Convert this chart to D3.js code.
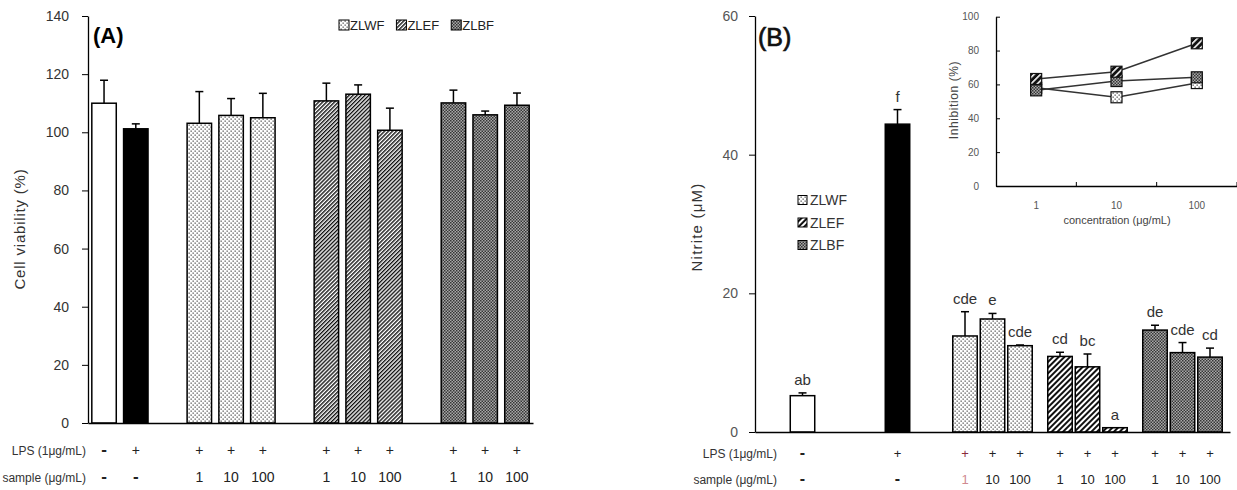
<!DOCTYPE html>
<html>
<head>
<meta charset="utf-8">
<script src="https://cdn.jsdelivr.net/npm/d3@7.9.0/dist/d3.min.js"></script>
<style>
  body { margin: 0; background: #fff; }
  svg { display: block; font-family: "Liberation Sans", Arial, sans-serif; }
</style>
</head>
<body>
<script>
// treatments and doses
const treatments = ['control', 'LPS', 'ZLWF', 'ZLEF', 'ZLBF'];
const extracts = ['ZLWF', 'ZLEF', 'ZLBF'];
const doses = ['1', '10', '100'];

// (A) cell viability (%), bar order: control, LPS, ZLWF 1/10/100, ZLEF 1/10/100, ZLBF 1/10/100
const viabilityMean = [110.0, 101.2, 103.1, 105.8, 105.0, 110.8, 113.1, 100.7, 110.1, 106.0, 109.3];
const viabilityErr = [7.9, 1.7, 10.9, 5.8, 8.4, 6.1, 3.2, 7.6, 4.4, 1.3, 4.2];

// (B) nitrite (uM)
const nitriteMean = [5.24, 44.4, 13.85, 16.3, 12.45, 10.9, 9.4, 0.62, 14.7, 11.45, 10.8];
const nitriteErr = [0.4, 2.1, 3.5, 0.8, 0.1, 0.6, 1.85, 0, 0.7, 1.45, 1.3];
const nitriteLetters = ['ab', 'f', 'cde', 'e', 'cde', 'cd', 'bc', 'a', 'de', 'cde', 'cd'];

// inset: inhibition (%) by concentration
const inhibZLWF = [58.0, 52.4, 60.8];
const inhibZLEF = [63.2, 67.5, 84.3];
const inhibZLBF = [56.5, 62.0, 64.2];

// table rows under the bars
const lpsRow = ['-', '+', '+', '+', '+', '+', '+', '+', '+', '+', '+'];
const sampleRow = ['-', '-', '1', '10', '100', '1', '10', '100', '1', '10', '100'];

const ticksA = [0, 20, 40, 60, 80, 100, 120, 140];
const ticksB = [0, 20, 40, 60];
const ticksInset = [0, 20, 40, 60, 80, 100];

const bars = treatments
  .flatMap((t) => (extracts.includes(t) ? doses.map((d) => ({ t, dose: d })) : [{ t, dose: null }]))
  .map((b, i) => ({ ...b, i, key: b.dose ? `${b.t}-${b.dose}` : b.t }));

const svg = d3.select('body').append('svg').attr('width', 1237).attr('height', 490);
const defs = svg.append('defs');

function pattern(id, size, rotate, draw) {
  const p = defs.append('pattern')
    .attr('id', id)
    .attr('patternUnits', 'userSpaceOnUse')
    .attr('width', size)
    .attr('height', size);
  if (rotate) p.attr('patternTransform', `rotate(${rotate})`);
  draw(p, size);
}

pattern('dots', 4, 0, (p) => {
  p.append('rect').attr('width', 4).attr('height', 4).attr('fill', '#fff');
  p.append('rect').attr('x', 0.5).attr('y', 0.5).attr('width', 1.3).attr('height', 1.3).attr('fill', '#555');
  p.append('rect').attr('x', 2.5).attr('y', 2.5).attr('width', 1.3).attr('height', 1.3).attr('fill', '#555');
});
pattern('hatchA', 2.8, 45, (p, s) => {
  p.append('rect').attr('width', s).attr('height', s).attr('fill', '#fff');
  p.append('rect').attr('width', s * 0.5).attr('height', s).attr('fill', '#111');
});
pattern('hatchB', 4, 45, (p, s) => {
  p.append('rect').attr('width', s).attr('height', s).attr('fill', '#fff');
  p.append('rect').attr('width', s * 0.5).attr('height', s).attr('fill', '#111');
});
pattern('hatchInv', 4.5, 45, (p, s) => {
  p.append('rect').attr('width', s).attr('height', s).attr('fill', '#111');
  p.append('rect').attr('width', s * 0.35).attr('height', s).attr('fill', '#fff');
});
pattern('checker', 3, 0, (p) => {
  p.append('rect').attr('width', 3).attr('height', 3).attr('fill', '#a8a8a8');
  p.append('rect').attr('width', 1.5).attr('height', 1.5).attr('fill', '#363636');
  p.append('rect').attr('x', 1.5).attr('y', 1.5).attr('width', 1.5).attr('height', 1.5).attr('fill', '#363636');
});

const fillA = { control: '#fff', LPS: '#000', ZLWF: 'url(#dots)', ZLEF: 'url(#hatchA)', ZLBF: 'url(#checker)' };
const fillB = { control: '#fff', LPS: '#000', ZLWF: 'url(#dots)', ZLEF: 'url(#hatchB)', ZLBF: 'url(#checker)' };

function styleAxis(g, color, size) {
  g.select('.domain').attr('stroke', '#000').attr('stroke-width', 1.3);
  g.selectAll('.tick line').attr('stroke', '#000').attr('stroke-width', 1);
  g.selectAll('.tick text').attr('fill', color).attr('font-size', size).attr('font-family', null);
}

function drawTable(g, xPos, rows, ys, size, labelSize, labelX, labels) {
  rows.forEach((row, r) => {
    g.append('text')
      .attr('x', labelX).attr('y', ys[r])
      .attr('text-anchor', 'end').attr('font-size', labelSize).attr('fill', '#333')
      .text(labels[r]);
    g.selectAll(null)
      .data(bars)
      .join('text')
      .attr('class', (d) => `cell c-${d.key}`)
      .attr('x', (d) => xPos(d))
      .attr('y', ys[r])
      .attr('text-anchor', 'middle')
      .attr('font-size', (d) => (row[d.i] === '-' ? size + 3 : size))
      .attr('font-weight', (d) => (row[d.i] === '-' ? 'bold' : null))
      .attr('fill', '#222')
      .text((d) => row[d.i]);
  });
}

// ---------------- panel A ----------------
const gA = svg.append('g');
const slotsA = ['control', 'LPS', 'gap1', ...doses.map((d) => `ZLWF-${d}`), 'gap2',
  ...doses.map((d) => `ZLEF-${d}`), 'gap3', ...doses.map((d) => `ZLBF-${d}`)];
const xA = d3.scaleBand(slotsA, [88, 533]).paddingInner(0.23).paddingOuter(0.12);
const yA = d3.scaleLinear([0, 140], [423, 16]);
const cxA = (d) => xA(d.key) + xA.bandwidth() / 2;

gA.selectAll('rect.bar')
  .data(bars)
  .join('rect')
  .attr('class', 'bar')
  .attr('x', (d) => xA(d.key))
  .attr('width', xA.bandwidth())
  .attr('y', (d) => yA(viabilityMean[d.i]))
  .attr('height', (d) => yA(0) - yA(viabilityMean[d.i]))
  .attr('fill', (d) => fillA[d.t])
  .attr('stroke', '#000')
  .attr('stroke-width', 1.5);

const errA = gA.selectAll('g.err').data(bars).join('g').attr('class', 'err')
  .attr('stroke', '#000').attr('stroke-width', 1.5);
errA.append('line')
  .attr('x1', cxA).attr('x2', cxA)
  .attr('y1', (d) => yA(viabilityMean[d.i])).attr('y2', (d) => yA(viabilityMean[d.i] + viabilityErr[d.i]));
errA.append('line')
  .attr('x1', (d) => cxA(d) - 4).attr('x2', (d) => cxA(d) + 4)
  .attr('y1', (d) => yA(viabilityMean[d.i] + viabilityErr[d.i])).attr('y2', (d) => yA(viabilityMean[d.i] + viabilityErr[d.i]));

gA.append('g').attr('transform', `translate(88,0)`)
  .call(d3.axisLeft(yA).tickValues(ticksA).tickSizeInner(6).tickSizeOuter(0).tickPadding(13))
  .call(styleAxis, '#333', 14);
gA.append('g').attr('transform', `translate(0,${yA(0)})`)
  .call(d3.axisBottom(xA).tickValues([]).tickSizeOuter(0))
  .call(styleAxis, '#333', 14);

gA.append('text').attr('x', 93).attr('y', 43).attr('font-size', 22).attr('font-weight', 'bold').text('(A)');
gA.append('text')
  .attr('transform', 'translate(25,229) rotate(-90)')
  .attr('text-anchor', 'middle').attr('font-size', 15).attr('letter-spacing', 0.8).attr('fill', '#333')
  .text('Cell viability (%)');

// legend A (horizontal)
let lx = 339;
extracts.forEach((t) => {
  gA.append('rect').attr('x', lx).attr('y', 20).attr('width', 10).attr('height', 10)
    .attr('fill', fillA[t]).attr('stroke', '#000').attr('stroke-width', 1);
  const txt = gA.append('text').attr('x', lx + 11).attr('y', 30).attr('font-size', 13).attr('fill', '#222').text(t);
  lx += 11 + txt.node().getComputedTextLength() + 12;
});

drawTable(gA, cxA, [lpsRow, sampleRow], [455, 482], 14, 12, 86, ['LPS (1μg/mL)', 'sample (μg/mL)']);

// ---------------- panel B ----------------
const gB = svg.append('g');
const xB = d3.scaleBand(treatments, [755, 1230]);
const xInner = d3.scaleBand(doses, [-41.25, 41.25]).paddingInner(0.11).paddingOuter(0.055);
const barW = xInner.bandwidth();
const yB = d3.scaleLinear([0, 60], [432, 16]);
const cxB = (d) => xB(d.t) + xB.bandwidth() / 2 + (d.dose ? xInner(d.dose) + barW / 2 : 0);

gB.selectAll('rect.bar')
  .data(bars)
  .join('rect')
  .attr('class', 'bar')
  .attr('x', (d) => cxB(d) - barW / 2)
  .attr('width', barW)
  .attr('y', (d) => yB(nitriteMean[d.i]))
  .attr('height', (d) => yB(0) - yB(nitriteMean[d.i]))
  .attr('fill', (d) => fillB[d.t])
  .attr('stroke', '#000')
  .attr('stroke-width', 1.5);

const errB = gB.selectAll('g.err').data(bars.filter((d) => nitriteErr[d.i] > 0)).join('g').attr('class', 'err')
  .attr('stroke', '#000').attr('stroke-width', 1.5);
errB.append('line')
  .attr('x1', cxB).attr('x2', cxB)
  .attr('y1', (d) => yB(nitriteMean[d.i])).attr('y2', (d) => yB(nitriteMean[d.i] + nitriteErr[d.i]));
errB.append('line')
  .attr('x1', (d) => cxB(d) - 4).attr('x2', (d) => cxB(d) + 4)
  .attr('y1', (d) => yB(nitriteMean[d.i] + nitriteErr[d.i])).attr('y2', (d) => yB(nitriteMean[d.i] + nitriteErr[d.i]));

gB.selectAll('text.letter')
  .data(bars)
  .join('text')
  .attr('class', 'letter')
  .attr('x', cxB)
  .attr('y', (d) => yB(nitriteMean[d.i] + nitriteErr[d.i]) - 8)
  .attr('text-anchor', 'middle').attr('font-size', 15).attr('fill', '#333')
  .text((d) => nitriteLetters[d.i]);

gB.append('g').attr('transform', `translate(755,0)`)
  .call(d3.axisLeft(yB).tickValues(ticksB).tickSizeInner(6).tickSizeOuter(0).tickPadding(11))
  .call(styleAxis, '#555', 14);
gB.append('g').attr('transform', `translate(0,${yB(0)})`)
  .call(d3.axisBottom(xB).tickValues([]).tickSizeOuter(0))
  .call(styleAxis, '#333', 14);

gB.append('text').attr('x', 758).attr('y', 46).attr('font-size', 25).attr('fill', '#111')
  .attr('stroke', '#111').attr('stroke-width', 0.7).text('(B)');
gB.append('text')
  .attr('transform', 'translate(702,227) rotate(-90)')
  .attr('text-anchor', 'middle').attr('font-size', 15).attr('letter-spacing', 1.2).attr('fill', '#333')
  .text('Nitrite (μM)');

// legend B (vertical)
extracts.forEach((t, k) => {
  const cy = 200 + k * 22.5;
  gB.append('rect').attr('x', 798).attr('y', cy - 4.5).attr('width', 9).attr('height', 9)
    .attr('fill', fillB[t]).attr('stroke', '#000').attr('stroke-width', 1);
  gB.append('text').attr('x', 810).attr('y', cy + 5).attr('font-size', 14).attr('fill', '#333').text(t);
});

drawTable(gB, cxB, [lpsRow, sampleRow], [458, 484], 13, 12, 777, ['LPS (1μg/mL)', 'sample (μg/mL)']);
// first ZLWF column printed with a red tint
gB.selectAll('text.c-ZLWF-1').attr('fill', (d, i) => (i === 0 ? '#8a2a3a' : '#d08a90'));

// ---------------- inset ----------------
const gI = svg.append('g');
const xI = d3.scaleBand(doses, [996, 1237]);
const yI = d3.scaleLinear([0, 100], [186, 16.7]);

gI.append('g').attr('transform', 'translate(996,0)')
  .call(d3.axisLeft(yI).tickValues(ticksInset).tickSizeInner(-4).tickSizeOuter(0).tickPadding(17))
  .call(styleAxis, '#555', 10);
gI.append('g').attr('transform', `translate(0,${yI(0)})`)
  .call(d3.axisBottom(xI).tickSize(0).tickPadding(16))
  .call(styleAxis, '#555', 10);
gI.selectAll('line.btick')
  .data(doses)
  .join('line')
  .attr('class', 'btick')
  .attr('x1', (d) => xI(d) + xI.step()).attr('x2', (d) => xI(d) + xI.step())
  .attr('y1', yI(0)).attr('y2', yI(0) - 4)
  .attr('stroke', '#000');

gI.append('text').attr('x', 1117).attr('y', 224).attr('text-anchor', 'middle')
  .attr('font-size', 11).attr('fill', '#444').text('concentration (μg/mL)');
gI.append('text')
  .attr('transform', 'translate(958,100) rotate(-90)')
  .attr('text-anchor', 'middle').attr('font-size', 12).attr('letter-spacing', 0.6).attr('fill', '#444')
  .text('Inhibition (%)');

const insetSeries = [
  { name: 'ZLWF', values: inhibZLWF, fill: 'url(#dots)' },
  { name: 'ZLBF', values: inhibZLBF, fill: 'url(#checker)' },
  { name: 'ZLEF', values: inhibZLEF, fill: 'url(#hatchInv)' },
];
const line = d3.line().x((d) => xI(d.dose) + xI.bandwidth() / 2).y((d) => yI(d.v));
insetSeries.forEach((s) => {
  const pts = s.values.map((v, j) => ({ dose: doses[j], v }));
  gI.append('path').attr('d', line(pts)).attr('fill', 'none').attr('stroke', '#333').attr('stroke-width', 1.5);
});
insetSeries.forEach((s) => {
  const pts = s.values.map((v, j) => ({ dose: doses[j], v }));
  gI.selectAll(null)
    .data(pts)
    .join('rect')
    .attr('x', (d) => xI(d.dose) + xI.bandwidth() / 2 - 5.5)
    .attr('y', (d) => yI(d.v) - 5.5)
    .attr('width', 11).attr('height', 11)
    .attr('fill', s.fill).attr('stroke', '#111').attr('stroke-width', 1.2);
});
</script>
</body>
</html>
